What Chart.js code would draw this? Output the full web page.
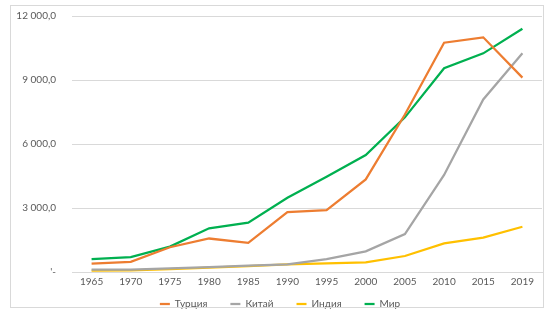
<!DOCTYPE html>
<html>
<head>
<meta charset="utf-8">
<script src="https://cdn.jsdelivr.net/npm/chart.js@4"></script>
<style>
html,body{margin:0;padding:0;background:#fff;}
#wrap{position:relative;width:560px;height:322px;}
#frame{position:absolute;left:10px;top:5px;width:532px;height:301px;border:1px solid #d9d9d9;pointer-events:none;}
canvas{position:absolute;left:0;top:0;}
</style>
</head>
<body>
<div id="wrap">
<canvas id="c" width="560" height="322"></canvas>
<div id="frame"></div>
</div>
<script>
const years = ["1965","1970","1975","1980","1985","1990","1995","2000","2005","2010","2015","2019"];
const seriesNames = ["Турция","Китай","Индия","Мир"];
const turkey = [390, 480, 1160, 1570, 1370, 2810, 2900, 4340, 7380, 10750, 11000, 9110];
const china  = [110, 110, 170, 230, 300, 360, 600, 970, 1780, 4550, 8090, 10250];
const india  = [60, 80, 140, 200, 270, 360, 410, 450, 750, 1340, 1610, 2120];
const world  = [600, 700, 1190, 2050, 2310, 3480, 4470, 5480, 7250, 9550, 10250, 11400];
const yTicks = [0, 3000, 6000, 9000, 12000];
const colors = ["#ED7D31", "#A5A5A5", "#FFC000", "#00B050"];

const fontFamily = "Lato, 'Open Sans', sans-serif";
function fmt(v){
  if (v === 0) return "'-";
  const s = Math.round(v).toString().replace(/\B(?=(\d{3})+(?!\d))/g, " ");
  return s + ",0";
}
const legendTweak = {
  id: "legendTweak",
  beforeUpdate(chart) {
    const lg = chart.legend;
    if (lg && !lg._patched) {
      const orig = lg.fit;
      lg.fit = function() { orig.call(this); this.height = 30; };
      lg._patched = true;
    }
  },
  afterLayout(chart) {
    const lg = chart.legend;
    if (lg) { lg.top -= 16; lg.left += 9; lg.right += 9; }
  }
};
const dataSeries = [turkey, china, india, world];
new Chart(document.getElementById("c"), {
  type: "line",
  data: {
    labels: years,
    datasets: dataSeries.map((d, i) => ({
      label: seriesNames[i],
      data: d,
      borderColor: colors[i],
      backgroundColor: colors[i],
      borderWidth: 2.25,
      pointRadius: 0,
      tension: 0,
      fill: false,
      pointStyle: "line"
    }))
  },
  plugins: [legendTweak],
  options: {
    responsive: false,
    animation: false,
    layout: { padding: { left: 0, right: 18, top: 16, bottom: 0 } },
    plugins: {
      tooltip: { enabled: false },
      legend: {
        position: "bottom",
        labels: {
          usePointStyle: true,
          pointStyleWidth: 10,
          boxHeight: 10,
          padding: 23,
          color: "#595959",
          font: { family: fontFamily, size: 10 }
        }
      }
    },
    scales: {
      x: {
        offset: true,
        grid: { display: false, drawTicks: false },
        border: { display: true, color: "#d9d9d9", width: 1 },
        ticks: { color: "#595959", padding: 4, font: { family: fontFamily, size: 10 }, maxRotation: 0 }
      },
      y: {
        min: 0,
        max: 12000,
        afterBuildTicks: s => { s.ticks = yTicks.map(v => ({ value: v })); },
        afterFit: s => { s.width = 72; s.paddingTop = 0; },
        grid: { color: "#d9d9d9", drawTicks: false },
        border: { display: false },
        ticks: { color: "#595959", padding: 16, font: { family: fontFamily, size: 10 }, callback: v => fmt(v) }
      }
    }
  }
});
</script>
</body>
</html>
